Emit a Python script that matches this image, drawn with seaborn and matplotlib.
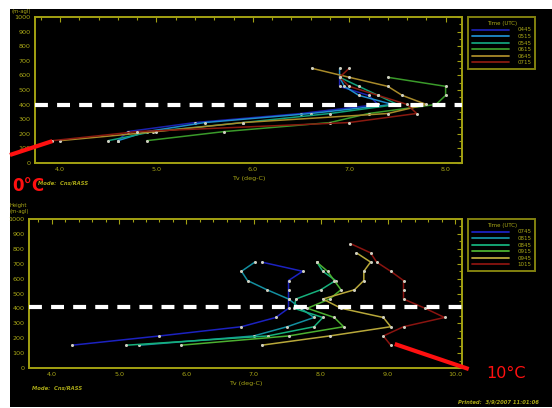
import matplotlib
matplotlib.use("Agg")
import matplotlib.pyplot as plt
from matplotlib.patches import Rectangle
import seaborn as sns
import pandas as pd

# RASS range gates (m above ground level)
gates = [153, 215, 277, 339, 401, 463, 525, 587, 649, 711, 773, 835]

# Virtual temperature profiles, early period (UTC)
early_times = ["0445", "0515", "0545", "0615", "0645", "0715"]
tv_0445 = [4.6, 4.7, 5.4, 6.5, 7.3, 7.2, 6.9, 6.9]
tv_0515 = [4.6, 4.9, 5.5, 6.6, 7.45, 7.1, 6.95, 6.9, 6.9]
tv_0545 = [4.5, 4.96, 5.9, 6.8, 7.5, 7.3, 7.1, 6.9]
tv_0615 = [4.9, 5.7, 6.8, 7.2, 7.9, 8.0, 8.0, 7.4]
tv_0645 = [4.0, 5.0, 5.9, 7.4, 7.8, 7.55, 7.4, 7.0, 6.61]
tv_0715 = [3.92, 4.8, 7.0, 7.7, 7.6, 7.3, 7.0, 6.9, 7.0]

# Virtual temperature profiles, later period (UTC)
late_times = ["0745", "0815", "0845", "0915", "0945", "1015"]
tv_0745 = [4.3, 5.6, 6.82, 7.33, 7.52, 7.52, 7.52, 7.52, 7.73, 7.12]
tv_0815 = [5.3, 7.0, 7.5, 7.9, 7.7, 7.52, 7.2, 6.91, 6.82, 7.02]
tv_0845 = [5.11, 7.21, 7.9, 8.03, 7.6, 7.63, 8.0, 8.22, 8.03, 7.94]
tv_0915 = [5.92, 7.52, 8.34, 8.2, 7.8, 8.13, 8.3, 8.2, 8.1, 7.94]
tv_0945 = [7.12, 8.13, 9.04, 8.93, 8.3, 8.03, 8.5, 8.64, 8.64, 8.74, 8.53]
tv_1015 = [9.04, 8.93, 9.23, 9.84, 9.55, 9.23, 9.23, 9.23, 9.04, 8.83, 8.74, 8.44]

early_colors = ["#1c22b0", "#1e8ccc", "#12a07a", "#3a9a2a", "#a88a2a", "#8a1a10"]
late_colors = ["#1c22c0", "#138fa0", "#16b07c", "#4cb030", "#b8a83a", "#8a1410"]

# reference heights marked by the dashed lines
ref_height_early = 398
ref_height_late = 408

AXC = "#a3a112"
TXC = "#aaa817"


def long_frame(times, profiles):
    rows = []
    for t, prof in zip(times, profiles):
        for tv, h in zip(prof, gates):
            rows.append({"time": t, "Tv": tv, "height": h})
    return pd.DataFrame(rows)


early = long_frame(early_times, [tv_0445, tv_0515, tv_0545, tv_0615, tv_0645, tv_0715])
late = long_frame(late_times, [tv_0745, tv_0815, tv_0845, tv_0915, tv_0945, tv_1015])

sns.set_style("dark")
plt.rcParams["font.family"] = ["DejaVu Sans"]

fig = plt.figure(figsize=(5.52, 4.08), dpi=100, facecolor="white")
fig.patches.append(Rectangle((10 / 552, 1 / 408), 542 / 552, 398 / 408,
                             transform=fig.transFigure, facecolor="black",
                             edgecolor="none", zorder=-10))

ax1 = fig.add_axes([35 / 552, 1 - 163 / 408, 427 / 552, 146 / 408])
ax2 = fig.add_axes([29 / 552, 1 - 368 / 408, 433 / 552, 149 / 408])


def draw(ax, df, times, colors, title):
    sns.lineplot(data=df, x="Tv", y="height", hue="time", hue_order=times,
                 palette=dict(zip(times, colors)), sort=False, estimator=None,
                 marker="o", markersize=2.2, markerfacecolor="#cfcfc0",
                 markeredgewidth=0, linewidth=1.1, ax=ax, legend=True)
    leg = ax.legend(title=title, loc="upper left", bbox_to_anchor=(1.014, 1.0),
                    borderaxespad=0, fontsize=4.0, title_fontsize=4.0,
                    handlelength=6.6, handletextpad=1.6, labelspacing=0.28,
                    borderpad=0.7, frameon=True, fancybox=False,
                    facecolor="black", edgecolor=AXC, alignment="center")
    leg.get_frame().set_linewidth(1.4)
    for txt in leg.get_texts():
        txt.set_color(TXC)
    leg.get_title().set_color(TXC)
    for h in leg.legend_handles:
        h.set_marker("")
        h.set_linewidth(1.3)


def style_axes(ax, xlim, ticks):
    ax.set_facecolor("black")
    ax.grid(False)
    for s in ax.spines.values():
        s.set_color(AXC)
        s.set_linewidth(1.4)
        s.set_visible(True)
    ax.set_xticks(ticks)
    ax.set_xticklabels([f"{t:.1f}" for t in ticks])
    ax.set_xticks([x / 10 for x in range(36, 102, 2)], minor=True)
    ax.set_xlim(*xlim)
    ax.set_yticks(range(0, 1001, 100))
    ax.set_yticks(range(0, 1001, 50), minor=True)
    ax.set_ylim(0, 1000)
    ax.tick_params(which="both", direction="in", top=True, right=True,
                   color=AXC, labelcolor=TXC, labelsize=4.6, width=0.8)
    ax.tick_params(which="major", length=3.5, pad=3)
    ax.tick_params(which="minor", length=2)
    ax.set_xlabel("Tv (deg-C)", color=TXC, fontsize=4.6, labelpad=3)
    ax.set_ylabel("")


draw(ax1, early, early_times, early_colors, "Time (UTC)")
draw(ax2, late, late_times, late_colors, "Time (UTC)")
style_axes(ax1, (3.74, 8.17), [4.0, 5.0, 6.0, 7.0, 8.0])
style_axes(ax2, (3.66, 10.1), [4.0, 5.0, 6.0, 7.0, 8.0, 9.0, 10.0])

# dashed reference heights
ax1.axhline(ref_height_early, color="white", lw=3.0, linestyle=(0, (3.1, 2.2)), zorder=5)
ax2.plot([0, 1.017], [ref_height_late, ref_height_late], color="white", lw=3.0,
         linestyle=(0, (3.1, 2.2)), transform=ax2.get_yaxis_transform(),
         clip_on=False, zorder=5)

# red pointers
ax1.plot([3.48, 3.92], [55, 150], color="#ff1010", lw=3.0, clip_on=False,
         solid_capstyle="butt", zorder=6)
ax2.plot([9.10, 10.2], [161, -7], color="#ff1010", lw=3.0, clip_on=False,
         solid_capstyle="butt", zorder=6)

# axis captions and footer text
fig.text(38 / 552, 1 - 183 / 408, "Mode:  Cns/RASS", color=TXC, fontsize=3.8,
         style="italic", fontweight="bold", va="center")
fig.text(32 / 552, 1 - 388 / 408, "Mode:  Cns/RASS", color=TXC, fontsize=3.8,
         style="italic", fontweight="bold", va="center")
fig.text(458 / 552, 1 - 402 / 408, "Printed:  3/9/2007 11:01:06", color=TXC,
         fontsize=3.8, style="italic", fontweight="bold", va="center")
fig.text(12 / 552, 1 - 12 / 408, "(m-agl)", color=TXC, fontsize=3.8, va="center")
fig.text(10 / 552, 1 - 206 / 408, "Height", color=TXC, fontsize=3.8, va="center")
fig.text(10 / 552, 1 - 211.5 / 408, "(m-agl)", color=TXC, fontsize=3.8, va="center")
fig.text(12 / 552, 1 - 186 / 408, "0°C", color="#ff1010", fontsize=12,
         fontweight="bold", va="center", ha="left")
fig.text(486 / 552, 1 - 373 / 408, "10°C", color="#ff1010", fontsize=11.5,
         va="center", ha="left")

fig.savefig("out.png", dpi=100, facecolor="white")
